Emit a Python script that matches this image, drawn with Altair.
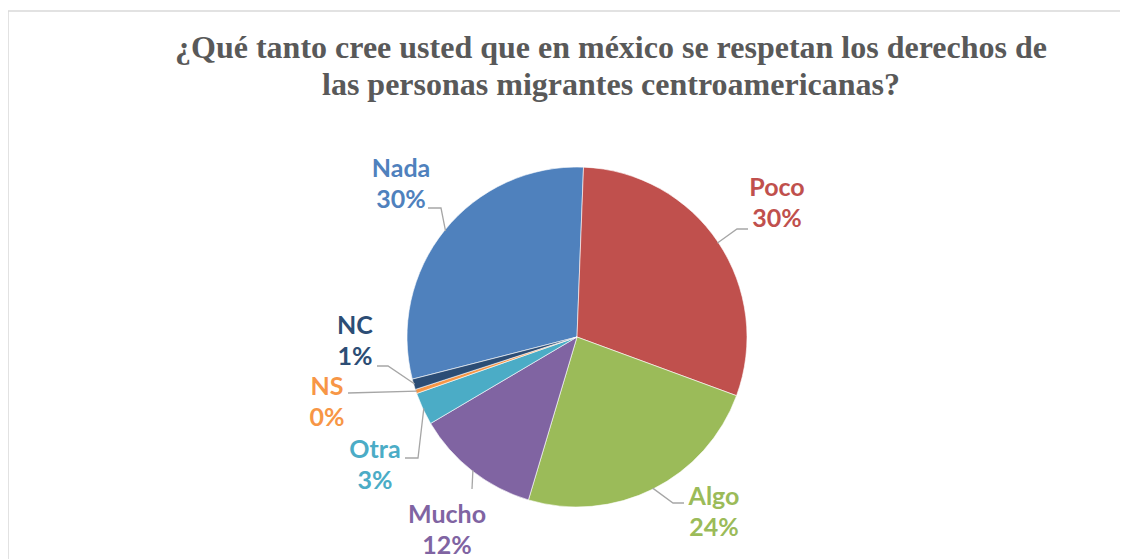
import math
import altair as alt
import pandas as pd

# ---------------- data ----------------
CATEGORIES = ["Nada", "Poco", "Algo", "Mucho", "Otra", "NS", "NC"]
PERCENTS = [29.6, 30.0, 24.0, 11.9, 3.1, 0.4, 1.0]
COLORS = ["#4F81BD", "#C0504D", "#9BBB59", "#8064A2", "#4BACC6", "#F79646", "#2C4D75"]
TITLE_LINES = [
    "¿Qué tanto cree usted que en méxico se respetan los derechos de",
    "las personas migrantes centroamericanas?",
]

# ---------------- layout (page pixels) ----------------
OX, OY = 8, 11            # view origin on the page
W, H = 1112, 548
CX, CY = 577, 337         # pie centre
R = 170                   # pie radius
START_DEG = 255.64        # angle where the first slice (Nada) starts
LINE_H = 31
# centre of the first label line
LABEL_POS = {
    "Nada": (401, 169), "Poco": (777, 188), "Algo": (714, 497),
    "Mucho": (447, 515), "Otra": (375, 450), "NS": (327, 387), "NC": (355, 326),
}
LEADER_END = {
    "Nada": [(441, 208), (428, 208)],
    "Poco": [(737, 229), (748, 229)],
    "Algo": [(673, 503), (684, 503)],
    "Mucho": [(472, 489)],
    "Otra": [(418, 458), (405, 458)],
    "NS": [(348, 393)],
    "NC": [(388, 366), (377, 366)],
}


def px(x, y):
    return x - OX, y - OY


df = pd.DataFrame({"cat": CATEGORIES, "pct": PERCENTS, "idx": range(len(CATEGORIES))})
total = df["pct"].sum()
df["label"] = [f"{c}\n{round(p)}%" for c, p in zip(df["cat"], df["pct"])]
cum = df["pct"].cumsum() - df["pct"] / 2
df["mid"] = START_DEG + cum / total * 360.0
lx, ly = zip(*[px(*LABEL_POS[c]) for c in df["cat"]])
df["lx"], df["ly"] = lx, ly

rows = []
for c, m in zip(df["cat"], df["mid"]):
    a = math.radians(m)
    pts = [(CX + (R - 1) * math.sin(a), CY - (R - 1) * math.cos(a))] + LEADER_END[c]
    for k, (x, y) in enumerate(pts):
        vx, vy = px(x, y)
        rows.append({"cat": c, "step": k, "x": vx, "y": vy})
leaders = pd.DataFrame(rows)

color_scale = alt.Scale(domain=CATEGORIES, range=COLORS)
start_rad = math.radians(START_DEG)
cx, cy = px(CX, CY)

shadow = alt.Chart(pd.DataFrame({"v": [1]})).mark_arc(
    outerRadius=R + 2, color="#000000", opacity=0.07
).encode(theta=alt.Theta("v:Q"), x=alt.value(cx + 2), y=alt.value(cy + 3))

pie = alt.Chart(df).mark_arc(outerRadius=R, stroke="#ffffff", strokeWidth=0.6).encode(
    theta=alt.Theta("pct:Q", stack=True,
                    scale=alt.Scale(range=[start_rad, start_rad + 2 * math.pi])),
    order=alt.Order("idx:Q"),
    color=alt.Color("cat:N", scale=color_scale, legend=None),
    x=alt.value(cx), y=alt.value(cy),
)

lines = alt.Chart(leaders).mark_line(color="#A6A6A6", strokeWidth=1.3).encode(
    x=alt.X("x:Q", scale=None), y=alt.Y("y:Q", scale=None),
    detail="cat:N", order="step:Q",
)

labels = alt.Chart(df).mark_text(
    font="Lato", fontWeight="bold", fontSize=25, lineBreak="\n", lineHeight=LINE_H,
    align="center", baseline="middle",
).encode(
    x=alt.X("lx:Q", scale=None), y=alt.Y("ly:Q", scale=None),
    text="label:N",
    color=alt.Color("cat:N", scale=color_scale, legend=None),
)

tx, ty = px(611, 58)
title = alt.Chart(pd.DataFrame({"t": ["\n".join(TITLE_LINES)]})).mark_text(
    font="Liberation Serif", fontWeight="bold", fontSize=32, lineBreak="\n",
    lineHeight=37, align="center", baseline="alphabetic", color="#595959",
).encode(text="t:N", x=alt.value(tx), y=alt.value(ty))

one = alt.Chart(pd.DataFrame({"v": [1]}))
border_top = one.mark_rule(color="#D9D9D9", strokeWidth=1.5).encode(
    x=alt.value(0), x2=alt.value(W), y=alt.value(0))
border_left = one.mark_rule(color="#D9D9D9", strokeWidth=1.5).encode(
    x=alt.value(0), y=alt.value(0), y2=alt.value(H))

chart = alt.layer(border_top, border_left, shadow, pie, lines, labels, title).properties(
    width=W, height=H,
    autosize=alt.AutoSizeParams(type="none"),
    padding={"left": 0, "top": 3, "right": 0, "bottom": 0},
).configure_view(stroke=None)

chart.save("out.html", embed_options={"renderer": "svg", "actions": False})
